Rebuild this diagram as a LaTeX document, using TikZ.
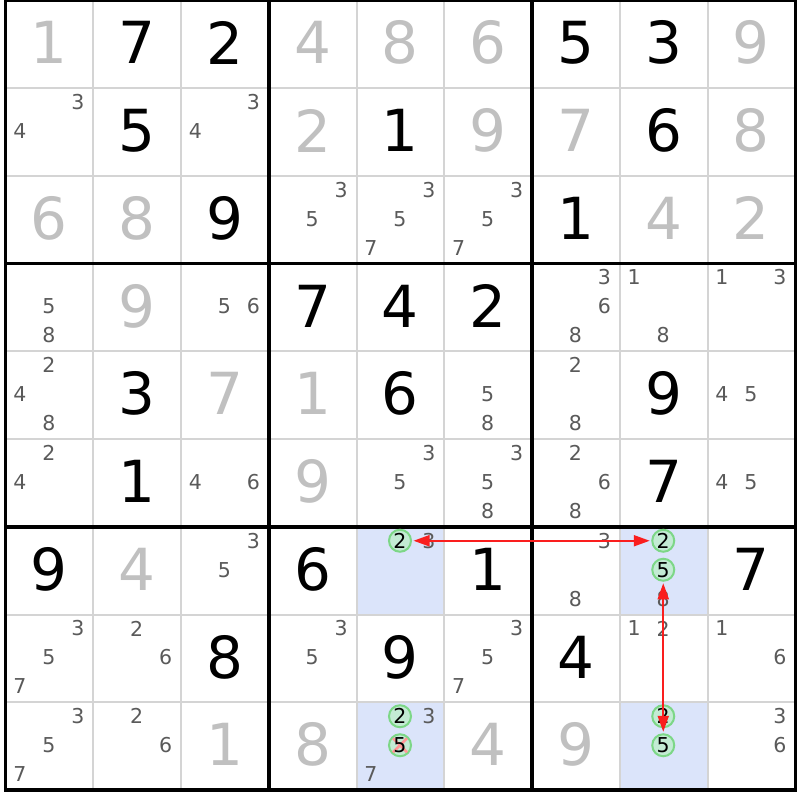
\documentclass[tikz,border=0pt]{standalone}
\usepackage{fontspec}
\setmainfont{DejaVu Sans}
\usetikzlibrary{arrows.meta}
\definecolor{solved}{RGB}{192,192,192}
\definecolor{cand}{RGB}{90,90,90}
\definecolor{hl}{RGB}{219,228,250}
\definecolor{thin}{RGB}{212,212,212}
\definecolor{ring}{RGB}{125,215,135}
\definecolor{ringfill}{RGB}{195,235,212}
\definecolor{linkred}{RGB}{250,30,30}
\definecolor{xred}{RGB}{255,150,150}
\tikzset{
  big/.style={font=\fontsize{58}{60}\selectfont, inner sep=0pt, anchor=center},
  givendigit/.style={big, text=black},
  solveddigit/.style={big, text=solved},
  candidate/.style={font=\fontsize{20.5}{22}\selectfont, inner sep=0pt, text=cand},
  ringed/.style={circle, draw=ring, line width=2pt, fill=ringfill, minimum size=22pt, inner sep=0pt},
  ringtext/.style={font=\fontsize{20.5}{22}\selectfont, inner sep=0pt, text=black},
  thinline/.style={draw=thin, line width=2pt},
  boxline/.style={draw=black, line width=3.5pt},
  elim/.style={draw=xred, line width=2.5pt},
  link/.style={draw=linkred, line width=2pt, {Triangle[length=16pt,width=11pt]}-{Triangle[length=16pt,width=11pt]}, shorten <=1.5pt, shorten >=1.5pt},
}
\begin{document}
\begin{tikzpicture}[x=1pt,y=-1pt]
\useasboundingbox (0,0) rectangle (800,800);
\fill[white] (0,0) rectangle (800,800);
% highlighted cells
\foreach \r/\c in {7/5,7/8,9/5,9/8}{
  \pgfmathsetmacro\X{5.5+(\c-1)*87.75}
  \pgfmathsetmacro\Y{0.25+(\r-1)*87.75}
  \fill[hl] (\X,\Y) rectangle ++(87.75,87.75);
}
% thin grid
\foreach \i in {1,2,4,5,7,8}{
  \draw[thinline] ({5.5+\i*87.75},0.25) -- ({5.5+\i*87.75},790);
  \draw[thinline] (5.5,{0.25+\i*87.75}) -- (795.25,{0.25+\i*87.75});
}
% box lines
\foreach \i in {3,6}{
  \draw[boxline] ({5.5+\i*87.75},0.25) -- ({5.5+\i*87.75},790);
  \draw[boxline] (5.5,{0.25+\i*87.75}) -- (795.25,{0.25+\i*87.75});
}
\draw[boxline] (5.5,0.25) rectangle (795.25,790);
% given digits
\foreach \r/\c/\d in {1/2/7,1/3/2,1/7/5,1/8/3,2/2/5,2/5/1,2/8/6,3/3/9,3/7/1,4/4/7,4/5/4,4/6/2,5/2/3,5/5/6,5/8/9,6/2/1,6/8/7,7/1/9,7/4/6,7/6/1,7/9/7,8/3/8,8/5/9,8/7/4}{
  \pgfmathsetmacro\X{5.5+(\c-1)*87.75+43.875}
  \pgfmathsetmacro\Y{0.25+(\r-1)*87.75+42.5}
  \node[givendigit] (g\r\c) at (\X,\Y) {\d};
}
% solved digits
\foreach \r/\c/\d in {1/1/1,1/4/4,1/5/8,1/6/6,1/9/9,2/4/2,2/6/9,2/7/7,2/9/8,3/1/6,3/2/8,3/8/4,3/9/2,4/2/9,5/3/7,5/4/1,6/4/9,7/2/4,9/3/1,9/4/8,9/6/4,9/7/9}{
  \pgfmathsetmacro\X{5.5+(\c-1)*87.75+43.875}
  \pgfmathsetmacro\Y{0.25+(\r-1)*87.75+42.5}
  \node[solveddigit] (s\r\c) at (\X,\Y) {\d};
}
% candidates
\foreach \r/\c/\lst in {2/1/{3,4},2/3/{3,4},3/4/{3,5},3/5/{3,5,7},3/6/{3,5,7},
  4/1/{5,8},4/3/{5,6},4/7/{3,6,8},4/8/{1,8},4/9/{1,3},
  5/1/{2,4,8},5/6/{5,8},5/7/{2,8},5/9/{4,5},
  6/1/{2,4},6/3/{4,6},6/5/{3,5},6/6/{3,5,8},6/7/{2,6,8},6/9/{4,5},
  7/3/{3,5},7/5/{3},7/7/{3,8},7/8/{8},
  8/1/{3,5,7},8/2/{2,6},8/4/{3,5},8/6/{3,5,7},8/8/{1,2},8/9/{1,6},
  9/1/{3,5,7},9/2/{2,6},9/5/{3,7},9/9/{3,6}}{
  \foreach \d in \lst {
    \pgfmathtruncatemacro\k{mod(\d-1,3)}
    \pgfmathtruncatemacro\j{div(\d-1,3)}
    \pgfmathsetmacro\X{5.5+(\c-1)*87.75+14.5+29*\k}
    \pgfmathsetmacro\Y{0.25+(\r-1)*87.75+14+29*\j}
    \node[candidate] (n\r\c\d) at (\X,\Y) {\d};
  }
}
% ringed candidates
\foreach \r/\c/\d in {7/5/2,7/8/2,7/8/5,9/5/2,9/5/5,9/8/2,9/8/5}{
  \pgfmathtruncatemacro\k{mod(\d-1,3)}
  \pgfmathtruncatemacro\j{div(\d-1,3)}
  \pgfmathsetmacro\X{5.5+(\c-1)*87.75+14.5+29*\k}
  \pgfmathsetmacro\Y{0.25+(\r-1)*87.75+14+29*\j}
  \node[ringed] (n\r\c\d) at (\X,\Y) {};
}
% elimination mark
\draw[elim] ([shift={(-7,-7)}]n955.center) -- ([shift={(7,7)}]n955.center);
\draw[elim] ([shift={(-7,7)}]n955.center) -- ([shift={(7,-7)}]n955.center);
% ringed digits
\foreach \r/\c/\d in {7/5/2,7/8/2,7/8/5,9/5/2,9/5/5,9/8/2,9/8/5}{
  \node[ringtext] (t\r\c\d) at (n\r\c\d.center) {\d};
}
% links
\draw[link] (n752) -- (n782);
\draw[link] (n785) -- (n985);
\end{tikzpicture}
\end{document}
